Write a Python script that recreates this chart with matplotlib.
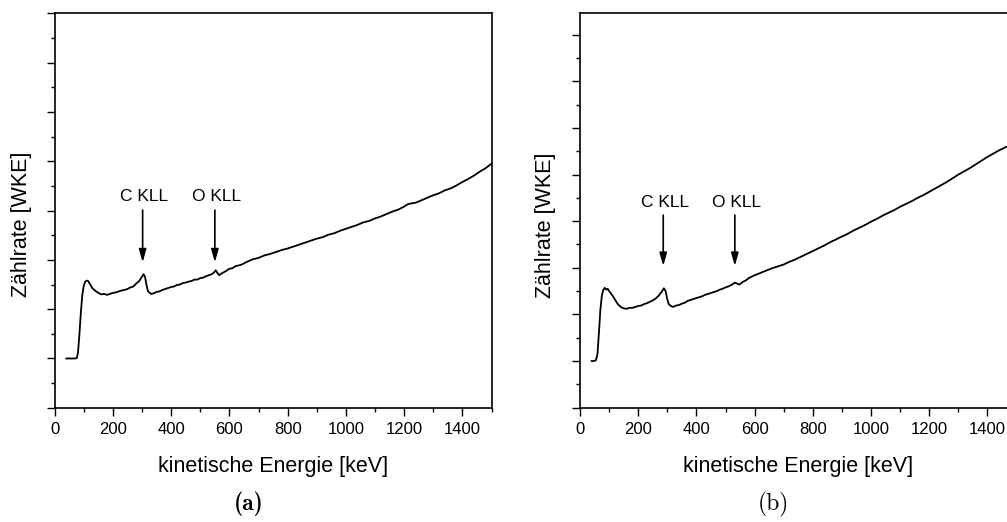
import os
import matplotlib
matplotlib.use("Agg")
import matplotlib.pyplot as plt
from matplotlib.ticker import MultipleLocator, NullFormatter
from matplotlib.font_manager import FontProperties

plt.rcParams['font.family'] = ['Liberation Sans', 'DejaVu Sans']

# Spectrum (a): kinetic energy [keV] and count rate [arb. units]
energy_a = [40, 50, 60, 70, 76, 80, 85, 90, 95, 100, 105, 110, 115, 120, 130,
            140, 150, 160, 170, 180, 190, 200, 210, 220, 230, 240, 250, 260,
            270, 280, 290, 300, 305, 310, 315, 320, 330, 340, 350, 360, 370,
            380, 390, 400, 410, 420, 430, 440, 450, 460, 470, 480, 490, 500,
            510, 520, 530, 540, 548, 553, 558, 565, 575, 590, 600, 610, 620,
            640, 660, 680, 700, 720, 740, 760, 780, 800, 820, 840, 860, 880,
            900, 920, 940, 960, 980, 1000, 1020, 1040, 1060, 1080, 1100, 1120,
            1140, 1160, 1180, 1200, 1210, 1220, 1240, 1260, 1280, 1300, 1320,
            1340, 1360, 1380, 1400, 1420, 1440, 1460, 1480, 1500]
counts_a = [1.00, 1.00, 1.00, 1.00, 1.01, 1.12, 1.50, 1.95, 2.30, 2.48, 2.56,
            2.58, 2.57, 2.52, 2.42, 2.37, 2.33, 2.30, 2.31, 2.29, 2.31, 2.33,
            2.34, 2.36, 2.38, 2.39, 2.41, 2.44, 2.46, 2.52, 2.57, 2.66, 2.71,
            2.66, 2.50, 2.37, 2.31, 2.32, 2.35, 2.36, 2.39, 2.41, 2.43, 2.45,
            2.46, 2.49, 2.50, 2.53, 2.54, 2.56, 2.57, 2.60, 2.60, 2.63, 2.64,
            2.67, 2.69, 2.71, 2.75, 2.79, 2.74, 2.69, 2.73, 2.78, 2.82, 2.83,
            2.87, 2.90, 2.96, 3.01, 3.04, 3.09, 3.12, 3.16, 3.20, 3.23, 3.27,
            3.31, 3.35, 3.39, 3.43, 3.46, 3.51, 3.54, 3.59, 3.63, 3.67, 3.71,
            3.76, 3.79, 3.84, 3.88, 3.93, 3.98, 4.02, 4.08, 4.12, 4.14, 4.16,
            4.21, 4.26, 4.31, 4.35, 4.41, 4.45, 4.51, 4.58, 4.64, 4.71, 4.79,
            4.86, 4.95]

# Spectrum (b)
energy_b = [40, 50, 55, 60, 65, 70, 75, 80, 85, 90, 95, 100, 110, 120, 130,
            140, 150, 160, 170, 180, 190, 200, 210, 220, 230, 240, 250, 260,
            270, 280, 288, 294, 300, 305, 312, 320, 330, 340, 350, 360, 370,
            380, 390, 400, 410, 420, 430, 440, 450, 460, 470, 480, 490, 500,
            510, 520, 532, 540, 548, 560, 570, 580, 590, 600, 620, 640, 660,
            680, 700, 720, 740, 760, 780, 800, 820, 840, 860, 880, 900, 920,
            940, 960, 980, 1000, 1020, 1040, 1060, 1080, 1100, 1120, 1140,
            1160, 1180, 1200, 1220, 1240, 1260, 1280, 1300, 1320, 1340, 1360,
            1380, 1400, 1420, 1440, 1460, 1480, 1500]
counts_b = [1.00, 1.00, 1.02, 1.15, 1.60, 2.10, 2.40, 2.53, 2.57, 2.53, 2.55,
            2.50, 2.42, 2.32, 2.22, 2.16, 2.13, 2.12, 2.14, 2.14, 2.16, 2.18,
            2.19, 2.22, 2.24, 2.27, 2.30, 2.34, 2.40, 2.48, 2.56, 2.50, 2.32,
            2.22, 2.18, 2.16, 2.19, 2.20, 2.23, 2.25, 2.29, 2.31, 2.33, 2.35,
            2.37, 2.39, 2.42, 2.44, 2.46, 2.48, 2.50, 2.53, 2.55, 2.58, 2.60,
            2.63, 2.68, 2.66, 2.64, 2.70, 2.73, 2.78, 2.81, 2.84, 2.89, 2.94,
            2.99, 3.03, 3.07, 3.13, 3.18, 3.24, 3.30, 3.36, 3.42, 3.48, 3.55,
            3.61, 3.67, 3.73, 3.80, 3.86, 3.92, 3.99, 4.05, 4.12, 4.18, 4.24,
            4.31, 4.37, 4.43, 4.50, 4.56, 4.63, 4.70, 4.77, 4.84, 4.92, 5.00,
            5.07, 5.14, 5.22, 5.30, 5.38, 5.45, 5.52, 5.58, 5.64, 5.70]

# Auger line markers: (label, arrow energy, text x, text baseline y, arrow top, arrow tip)
peaks_a = [("C KLL", 302, 308, 4.19, 4.01, 2.95),
           ("O KLL", 550, 556, 4.19, 4.01, 2.95)]
peaks_b = [("C KLL", 286, 292, 4.31, 4.13, 3.04),
           ("O KLL", 532, 537, 4.31, 4.13, 3.04)]

x_label = "kinetische Energie [keV]"
y_label = "Zählrate [WKE]"

W, H = 1007, 522
fig = plt.figure(figsize=(W / 100, H / 100), dpi=100)

ax_a = fig.add_axes([54.7 / W, 1 - 407.8 / H, 436.8 / W, 394.5 / H])
ax_b = fig.add_axes([580.0 / W, 1 - 407.6 / H, 436.6 / W, 394.3 / H])


def style(ax, ytop):
    ax.set_xlim(0, 1500)
    ax.set_ylim(0, ytop)
    ax.xaxis.set_major_locator(MultipleLocator(200))
    ax.xaxis.set_minor_locator(MultipleLocator(100))
    ax.yaxis.set_major_locator(MultipleLocator(1))
    ax.yaxis.set_minor_locator(MultipleLocator(0.5))
    ax.yaxis.set_major_formatter(NullFormatter())
    ax.tick_params(which='major', direction='out', length=5.5, width=1.0,
                   labelsize=12, pad=5)
    ax.tick_params(which='minor', direction='out', length=3, width=1.0)
    ax.tick_params(top=False, right=False, which='both')
    for sp in ax.spines.values():
        sp.set_linewidth(1.2)


def draw(ax, e, c, peaks):
    ax.plot(e, c, color='black', lw=1.3)
    for name, xa, xt, yt, ytop, ytip in peaks:
        ax.text(xt, yt, name, ha='center', va='baseline', fontsize=12.5)
        ax.annotate('', xy=(xa, ytip), xytext=(xa, ytop),
                    arrowprops=dict(arrowstyle='-|>,head_length=0.77,head_width=0.22',
                                    mutation_scale=10, lw=1.2, color='black',
                                    shrinkA=0, shrinkB=0))


style(ax_a, 8.0)
style(ax_b, 8.46)
draw(ax_a, energy_a, counts_a, peaks_a)
draw(ax_b, energy_b, counts_b, peaks_b)

# axis titles
fig.text(273 / W, 1 - 471.7 / H, x_label, ha='center', va='baseline', fontsize=15.5)
fig.text(798 / W, 1 - 471.7 / H, x_label, ha='center', va='baseline', fontsize=15.5)
fig.text(22 / W, 1 - 224 / H, y_label, ha='center', va='center', rotation=90, fontsize=15.5)
fig.text(546 / W, 1 - 225 / H, y_label, ha='center', va='center', rotation=90, fontsize=15.5)

# sub-figure captions in Computer Modern
cm_dir = os.path.join(matplotlib.get_data_path(), 'fonts', 'ttf')
cm_bold = FontProperties(fname=os.path.join(cm_dir, 'cmb10.ttf'), size=17)
cm_roman = FontProperties(fname=os.path.join(cm_dir, 'cmr10.ttf'), size=17)
fig.text(249 / W, 1 - 510 / H, '(a)', ha='center', va='baseline', fontproperties=cm_bold)
fig.text(773 / W, 1 - 510 / H, '(b)', ha='center', va='baseline', fontproperties=cm_roman)

fig.savefig("out.png", dpi=100)
